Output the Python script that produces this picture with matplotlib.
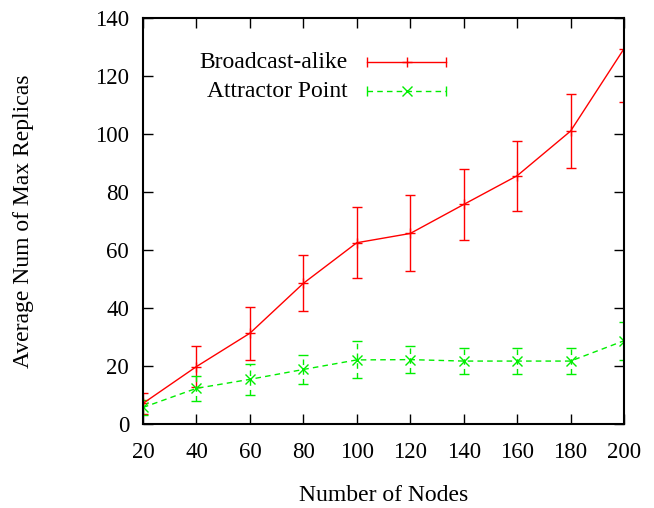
import matplotlib
matplotlib.use("Agg")
import matplotlib.pyplot as plt

nodes = [20, 40, 60, 80, 100, 120, 140, 160, 180, 200]
broadcast = [7.1, 19.8, 31.3, 48.5, 62.5, 65.7, 75.7, 85.6, 101.0, 129.4]
broadcast_err = [3.5, 7.0, 9.2, 9.7, 12.2, 13.1, 12.1, 12.0, 12.8, 18.5]
attractor = [5.7, 12.3, 15.4, 18.8, 22.1, 22.2, 21.7, 21.7, 21.7, 28.7]
attractor_err = [2.7, 4.4, 5.4, 5.1, 6.4, 4.6, 4.6, 4.6, 4.5, 6.6]
labels = ["Broadcast-alike", "Attractor Point"]
xticks = [20, 40, 60, 80, 100, 120, 140, 160, 180, 200]
yticks = [0, 20, 40, 60, 80, 100, 120, 140]

plt.rcParams['font.family'] = ['Liberation Serif', 'DejaVu Serif']
fs_tick = 16.5
fs = 17

fig = plt.figure(figsize=(6.54, 5.08), dpi=100)
ax = fig.add_axes([143/654, 1-424/508, 481/654, 406/508])

red = '#ff0000'
green = '#00ee00'

eb1 = ax.errorbar(nodes, broadcast, yerr=broadcast_err, color=red, lw=1.0,
                  marker='+', ms=7, mew=1.0, capsize=3.5, elinewidth=1.0, capthick=1.0)
eb2 = ax.errorbar(nodes, attractor, yerr=attractor_err, color=green, lw=1.0,
                  marker='x', ms=7, mew=1.0, capsize=3.5, elinewidth=1.0, capthick=1.0,
                  linestyle=(0, (4, 3)))
for bar in eb2[2]:
    bar.set_linestyle((0, (4, 3)))

ax.set_xlim(20, 200)
ax.set_ylim(0, 140)
ax.set_xticks(xticks)
ax.set_yticks(yticks)
ax.tick_params(direction='in', length=7, width=1.0, top=True, right=True,
               labelsize=fs_tick)
ax.tick_params(axis='x', pad=13)
ax.tick_params(axis='y', pad=10)
for s in ax.spines.values():
    s.set_linewidth(1.5)

ax.set_xlabel("Number of Nodes", fontsize=fs)
ax.set_ylabel("Average Num of Max Replicas", fontsize=fs)
ax.xaxis.set_label_coords(0.5, (424-485)/406)
ax.yaxis.set_label_coords((34-143)/481, 0.5)

# gnuplot-style key
x0, x1, xm, xt = 0.4657, 0.630, 0.548, 0.426
rows = [0.8916, 0.820]
styles = [(red, '+', '-'), (green, 'x', (0, (4, 3)))]
for lab, yy, (c, m, ls) in zip(labels, rows, styles):
    ax.plot([x0, x1], [yy, yy], transform=ax.transAxes, color=c, lw=1.0, ls=ls, clip_on=False)
    ax.plot([x0, x1], [yy, yy], transform=ax.transAxes, color=c, lw=0, marker='|', ms=7, mew=1.0, clip_on=False)
    ax.plot([xm], [yy], transform=ax.transAxes, color=c, lw=0, marker=m, ms=7, mew=1.0, clip_on=False)
    ax.text(xt, yy, lab, transform=ax.transAxes, ha='right', va='center', fontsize=fs)

fig.savefig("out.png", dpi=100)
